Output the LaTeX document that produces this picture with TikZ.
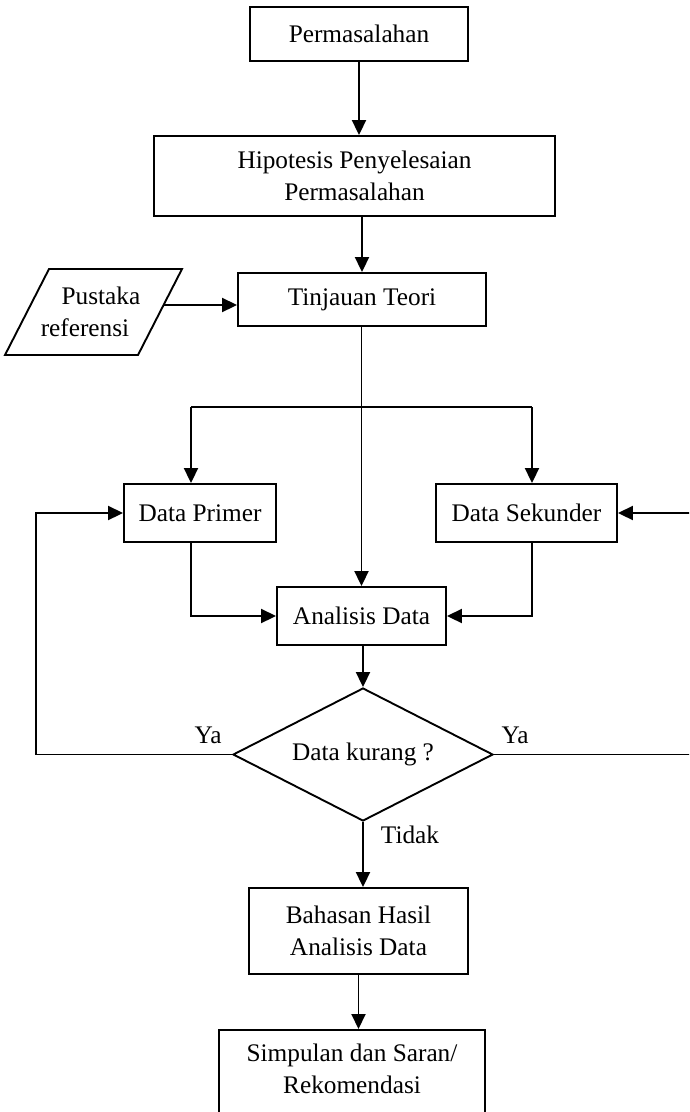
\documentclass[tikz,border=0pt]{standalone}
\usepackage{fontspec}
\setmainfont{Liberation Serif}
\usetikzlibrary{arrows.meta,shapes.geometric}
\tikzset{
  box/.style={draw, rectangle, line width=1.9pt, inner sep=0pt, align=center, font=\fontsize{25.3}{32}\selectfont},
  lbl/.style={inner sep=0pt, font=\fontsize{25.3}{32}\selectfont},
  ln/.style={line width=1.9pt},
  arr/.style={line width=1.9pt, -{Triangle[length=15pt,width=14pt]}},
}
\begin{document}
\begin{tikzpicture}[x=1pt,y=-1pt]
\useasboundingbox (0,0) rectangle (689,1112);
\clip (0,0) rectangle (689,1112);
% nodes
\node[box, minimum width=218pt, minimum height=54pt] (perm) at (359,34) {Permasalahan};
\node[box, minimum width=401pt, minimum height=80pt] (hip) at (354.5,176) {Hipotesis Penyelesaian\\Permasalahan};
\node[box, minimum width=248pt, minimum height=53pt] (tin) at (362,299.5) {Tinjauan Teori};
\draw[ln, line join=miter] (49,269) -- (182,269) -- (138,355) -- (5,355) -- cycle;
\node[lbl, align=center] (pus) at (93,312) {\hspace*{16pt}Pustaka\\referensi\hspace*{16pt}};
\coordinate (pusr) at (164,305);
\node[box, minimum width=152pt, minimum height=58pt] (dp) at (200,513) {Data Primer};
\node[box, minimum width=181pt, minimum height=58pt] (ds) at (526.5,513) {Data Sekunder};
\node[box, minimum width=169pt, minimum height=58pt] (an) at (361.5,616) {Analisis Data};
\node[draw, diamond, aspect=1.95, line width=1.9pt, inner sep=0pt, minimum width=260pt, minimum height=133pt, font=\fontsize{25.3}{32}\selectfont] (dk) at (363,754.5) {Data kurang ?};
\node[box, minimum width=219pt, minimum height=86pt] (bh) at (358.5,931) {Bahasan Hasil\\Analisis Data};
\node[box, anchor=north, minimum width=266pt, inner ysep=14pt] (sp) at (352,1029) {Simpulan dan Saran/\\Rekomendasi\\ \strut};
% labels
\node[lbl] (ya1) at (208,735) {Ya};
\node[lbl] (ya2) at (515,735) {Ya};
\node[lbl] (tdk) at (410,835) {Tidak};
% coordinates
\coordinate (sl) at (191,407);
\coordinate (sr) at (532,407);
\coordinate (lx) at (36,754.5);
\coordinate (rx) at (720,754.5);
% connectors
\draw[arr] (perm.south) -- (perm.south |- hip.north);
\draw[arr] (hip.south -| tin.north) -- (tin.north);
\draw[arr] (pusr) -- (tin.west |- pusr);
\draw[arr] (tin.south -| an.north) -- (an.north);
\draw[ln] (sl) -- (sr);
\draw[arr] (sl) -- (sl |- dp.north);
\draw[arr] (sr) -- (sr |- ds.north);
\draw[arr] (dp.south -| sl) |- (an.west);
\draw[arr] (ds.south -| sr) |- (an.east);
\draw[arr] (an.south -| dk.north) -- (dk.north);
\draw[arr] (dk.west) -- (lx) |- (dp.west);
\draw[arr] (dk.east) -- (rx) |- (ds.east);
\draw[arr] (dk.south) -- (dk.south |- bh.north);
\draw[arr] (bh.south) -- (bh.south |- sp.north);
\end{tikzpicture}
\end{document}
